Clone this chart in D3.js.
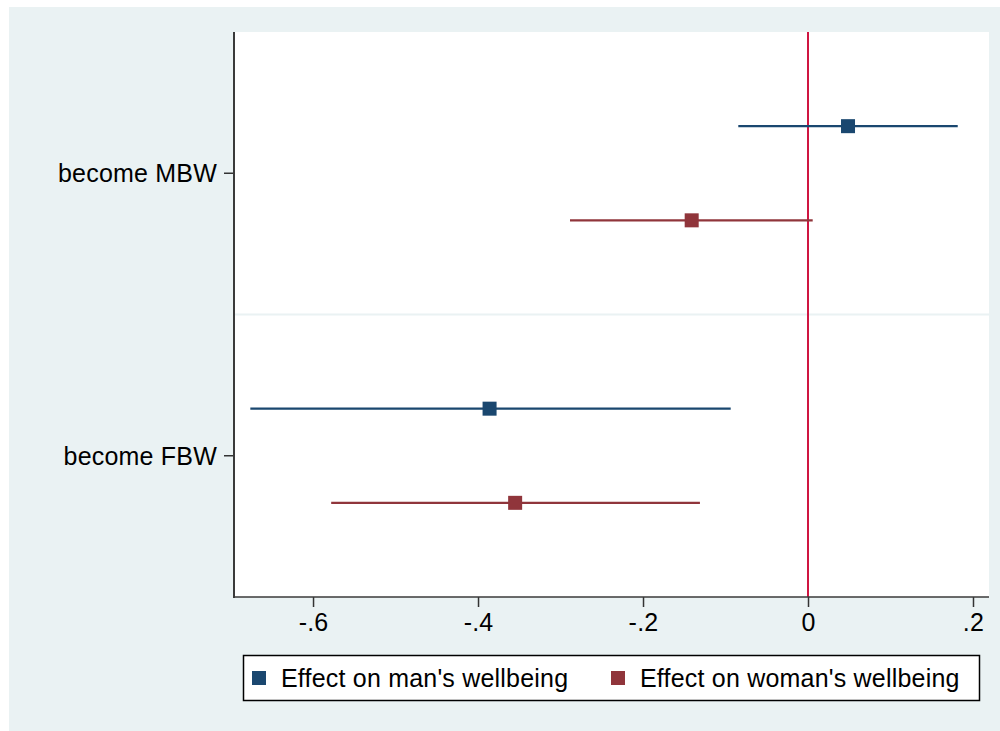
<!DOCTYPE html>
<html>
<head>
<meta charset="utf-8">
<script src="https://cdn.jsdelivr.net/npm/d3@7"></script>
<style>
  html, body { margin: 0; padding: 0; background: #ffffff; }
  svg { display: block; }
  text { font-family: "Liberation Sans", Arial, sans-serif; fill: #000; }
</style>
</head>
<body>
<svg id="chart" width="1000" height="731"></svg>
<script>
// values
const categories = ['become MBW', 'become FBW'];
const seriesNames = ["Effect on man's wellbeing", "Effect on woman's wellbeing"];
const manEstimate = [0.0485, -0.386];
const manLower = [-0.0845, -0.676];
const manUpper = [0.1815, -0.0937];
const womanEstimate = [-0.141, -0.355];
const womanLower = [-0.2885, -0.578];
const womanUpper = [0.0057, -0.131];
const xTicks = [-0.6, -0.4, -0.2, 0, 0.2];
const xDomain = [-0.6958, 0.2194];

const colors = ['#1a476f', '#90353b'];

const rows = [];
categories.forEach((cat, i) => {
  rows.push({ cat, series: seriesNames[0], est: manEstimate[i], lo: manLower[i], hi: manUpper[i] });
  rows.push({ cat, series: seriesNames[1], est: womanEstimate[i], lo: womanLower[i], hi: womanUpper[i] });
});

const svg = d3.select('#chart');
const width = +svg.attr('width');
const height = +svg.attr('height');

const plot = { left: 234, right: 989, top: 32, bottom: 597 };
const fontSize = 25;

// outer graph region
svg.append('rect')
  .attr('x', 9).attr('y', 7)
  .attr('width', width - 9).attr('height', height - 7)
  .attr('fill', '#eaf2f3');

// plot region
svg.append('rect')
  .attr('x', plot.left).attr('y', plot.top)
  .attr('width', plot.right - plot.left).attr('height', plot.bottom - plot.top)
  .attr('fill', '#ffffff');

const xScale = d3.scaleLinear()
  .domain(xDomain)
  .range([plot.left, plot.right]);

const yBand = d3.scaleBand()
  .domain(categories)
  .range([plot.top, plot.bottom]);

const yInner = d3.scalePoint()
  .domain(seriesNames)
  .range([0, yBand.bandwidth()])
  .padding(1);

const color = d3.scaleOrdinal().domain(seriesNames).range(colors);

// separator between groups
svg.append('g')
  .selectAll('line')
  .data(categories.slice(1))
  .join('line')
    .attr('x1', plot.left).attr('x2', plot.right)
    .attr('y1', d => yBand(d)).attr('y2', d => yBand(d))
    .attr('stroke', '#eaf2f3')
    .attr('stroke-width', 2);

// zero reference line
svg.append('line')
  .attr('x1', xScale(0)).attr('x2', xScale(0))
  .attr('y1', plot.top).attr('y2', plot.bottom)
  .attr('stroke', '#cf1541')
  .attr('stroke-width', 2);

const yPos = d => yBand(d.cat) + yInner(d.series);

// confidence intervals
svg.append('g')
  .selectAll('line')
  .data(rows)
  .join('line')
    .attr('x1', d => xScale(d.lo)).attr('x2', d => xScale(d.hi))
    .attr('y1', yPos).attr('y2', yPos)
    .attr('stroke', d => color(d.series))
    .attr('stroke-width', 2.2);

// point estimates
const sq = 14;
svg.append('g')
  .selectAll('rect')
  .data(rows)
  .join('rect')
    .attr('x', d => xScale(d.est) - sq / 2)
    .attr('y', d => yPos(d) - sq / 2)
    .attr('width', sq).attr('height', sq)
    .attr('fill', d => color(d.series));

const axisConfig = g => {
  g.selectAll('.domain').remove();
  g.selectAll('line').attr('stroke', '#333').attr('stroke-width', 1.5);
  g.selectAll('text')
    .attr('font-size', fontSize)
    .attr('letter-spacing', 0.2)
    .attr('font-family', '"Liberation Sans", Arial, sans-serif')
    .attr('fill', '#000');
};

// stata style: -.6, -.4, 0, .2
const stataFormat = d => d === 0 ? '0'
  : d3.format('.1f')(d).replace('\u2212', '-').replace('0.', '.');

// x axis
const xAxis = d3.axisBottom(xScale)
  .tickValues(xTicks)
  .tickSize(10)
  .tickPadding(6)
  .tickFormat(stataFormat);
svg.append('g')
  .attr('transform', `translate(0, ${plot.bottom})`)
  .call(xAxis)
  .call(axisConfig);

// y axis
const yAxis = d3.axisLeft(yBand)
  .tickSize(10)
  .tickPadding(7);
svg.append('g')
  .attr('transform', `translate(${plot.left}, 0)`)
  .call(yAxis)
  .call(axisConfig)
  .selectAll('text').attr('dy', '0.35em');

// axis lines
svg.append('line')
  .attr('x1', plot.left).attr('x2', plot.left)
  .attr('y1', plot.top).attr('y2', plot.bottom + 1)
  .attr('stroke', '#3a3a3a').attr('stroke-width', 2);
svg.append('line')
  .attr('x1', plot.left - 1).attr('x2', plot.right)
  .attr('y1', plot.bottom).attr('y2', plot.bottom)
  .attr('stroke', '#3a3a3a').attr('stroke-width', 1.6);

// legend
const legend = svg.append('g');
legend.append('rect')
  .attr('x', 243.5).attr('y', 655.5)
  .attr('width', 736).attr('height', 45)
  .attr('fill', '#ffffff')
  .attr('stroke', '#000')
  .attr('stroke-width', 1.5);

const legendX = [252, 611];
const items = legend.selectAll('.item')
  .data(seriesNames)
  .join('g')
    .attr('class', 'item')
    .attr('transform', (d, i) => `translate(${legendX[i]}, 678)`);
items.append('rect')
  .attr('x', 0).attr('y', -7)
  .attr('width', 14).attr('height', 14)
  .attr('fill', d => color(d));
items.append('text')
  .attr('x', 29)
  .attr('dy', '0.35em')
  .attr('font-size', fontSize)
  .attr('letter-spacing', 0.2)
  .text(d => d);
</script>
</body>
</html>
